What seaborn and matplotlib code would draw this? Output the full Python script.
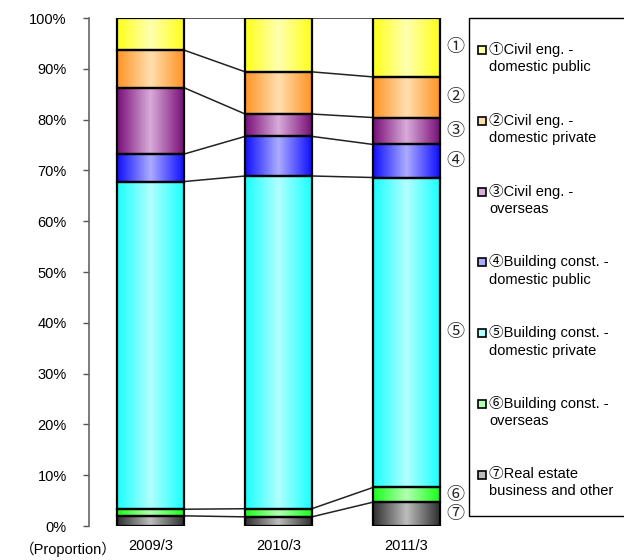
import numpy as np
import pandas as pd
import matplotlib
matplotlib.use("Agg")
import matplotlib.pyplot as plt
from matplotlib.colors import LinearSegmentedColormap
from matplotlib.patches import Rectangle
import seaborn as sns

# ---- data ----
years = ["2009/3", "2010/3", "2011/3"]
series_names = [
    "⑦Real estate\nbusiness and other",
    "⑥Building const. -\noverseas",
    "⑤Building const. -\ndomestic private",
    "④Building const. -\ndomestic public",
    "③Civil eng. -\noverseas",
    "②Civil eng. -\ndomestic private",
    "①Civil eng. -\ndomestic public",
]
side_marks = ["⑦", "⑥", "⑤", "④", "③", "②", "①"]
real_estate = [2.0, 1.8, 4.7]
bldg_overseas = [1.3, 1.6, 2.9]
bldg_dom_private = [64.5, 65.5, 61.0]
bldg_dom_public = [5.4, 7.8, 6.5]
civil_overseas = [13.1, 4.4, 5.3]
civil_dom_private = [7.4, 8.3, 8.0]
civil_dom_public = [6.3, 10.6, 11.6]
series_values = [real_estate, bldg_overseas, bldg_dom_private, bldg_dom_public,
                 civil_overseas, civil_dom_private, civil_dom_public]
yticks = list(range(0, 101, 10))
ytick_labels = [f"{t}%" for t in yticks]

# (edge colour, centre colour) of each gradient
edge_cols = ["#303030", "#1aff1a", "#1affff", "#1010ff", "#7a107a", "#ff9426", "#ffff1a"]
mid_cols = ["#bcbcbc", "#b0ffb0", "#b0ffff", "#aaaaff", "#d8aad8", "#ffdeae", "#ffffae"]

sns.set_style("white")
plt.rcParams["font.family"] = ["Liberation Sans", "Noto Sans CJK JP", "DejaVu Sans"]

fig = plt.figure(figsize=(6.24, 5.6), dpi=100)
L, R, B, T = 89 / 624, 445 / 624, 1 - 526 / 560, 1 - 18 / 560
ax = fig.add_axes([L, B, R - L, T - B])

width = 0.52
bottom = np.zeros(len(years))
cum_tops = []
for name, vals, mc in zip(series_names, series_values, mid_cols):
    df = pd.DataFrame({"year": years, "v": vals})
    sns.barplot(data=df, x="year", y="v", ax=ax, color=mc, width=width,
                bottom=bottom.copy(), edgecolor="black", linewidth=1.6,
                saturation=1, label=name, errorbar=None)
    bottom = bottom + np.array(vals)
    cum_tops.append(bottom.copy())

xlim = (-0.48, (445 - 150.5) / 128)
ax.set_xlim(*xlim)
ax.set_ylim(0, 100)

# gradients inside bars
patches = list(ax.patches)
grad = np.concatenate([np.linspace(0, 1, 50), np.linspace(1, 0, 50)])[None, :]
for k, p in enumerate(patches):
    s = k // len(years)
    cmap = LinearSegmentedColormap.from_list(f"g{k}", [edge_cols[s], mid_cols[s]])
    x0, y0 = p.get_x(), p.get_y()
    w, h = p.get_width(), p.get_height()
    im = ax.imshow(grad, cmap=cmap, extent=(x0, x0 + w, y0, y0 + h),
                   aspect="auto", zorder=2, interpolation="bilinear")
    im.set_clip_path(p)
    p.set_facecolor("none")
    p.set_zorder(3)
ax.set_xlim(*xlim)
ax.set_ylim(0, 100)

# connector lines between bars
for tops in cum_tops:
    for i in range(len(years) - 1):
        ax.plot([i + width / 2, i + 1 - width / 2], [tops[i], tops[i + 1]],
                color="#222222", lw=1.1, zorder=1)

# circled labels beside last bar
last = len(years) - 1
prev = 0.0
for mark, tops in zip(side_marks, cum_tops):
    mid = (prev + tops[last]) / 2
    prev = tops[last]
    ax.text(2.38, mid, mark, ha="center", va="center", fontsize=13,
            clip_on=False, family=["Noto Sans CJK JP", "DejaVu Sans"])

ax.set_yticks(yticks)
ax.set_yticklabels(ytick_labels, fontsize=10.5)
ax.tick_params(axis="y", length=4, width=1, color="#555555", pad=12, left=True,
               labelcolor="black")
ax.tick_params(axis="x", length=0, pad=9, labelsize=10.5, labelcolor="black")
ax.set_xlabel("")
ax.set_ylabel("")
for sp in ["top", "right", "bottom"]:
    ax.spines[sp].set_visible(False)
ax.spines["left"].set_color("#666666")
ax.spines["left"].set_linewidth(1.2)
if ax.get_legend():
    ax.get_legend().remove()

fig.text(68 / 624, 1 - 549 / 560, "（Proportion）", ha="center", va="center",
         fontsize=10.5, color="black")

# legend box drawn by hand
fig.patches.append(Rectangle((469 / 624, 1 - 516 / 560), 0.5, (516 - 18) / 560,
                             transform=fig.transFigure, facecolor="white",
                             edgecolor="black", lw=1.0, zorder=0))
for j in range(len(series_names)):
    s = len(series_names) - 1 - j
    yc = 50 + 70.8 * j
    fig.patches.append(Rectangle((478 / 624, 1 - (yc + 4) / 560), 8 / 624, 8 / 560,
                                 transform=fig.transFigure, facecolor=mid_cols[s],
                                 edgecolor="black", lw=1.2, zorder=2))
    fig.text(489 / 624, 1 - (yc - 8) / 560, series_names[s], ha="left", va="top",
             fontsize=10.5, linespacing=1.3, color="black")

fig.savefig("out.png", dpi=100)
